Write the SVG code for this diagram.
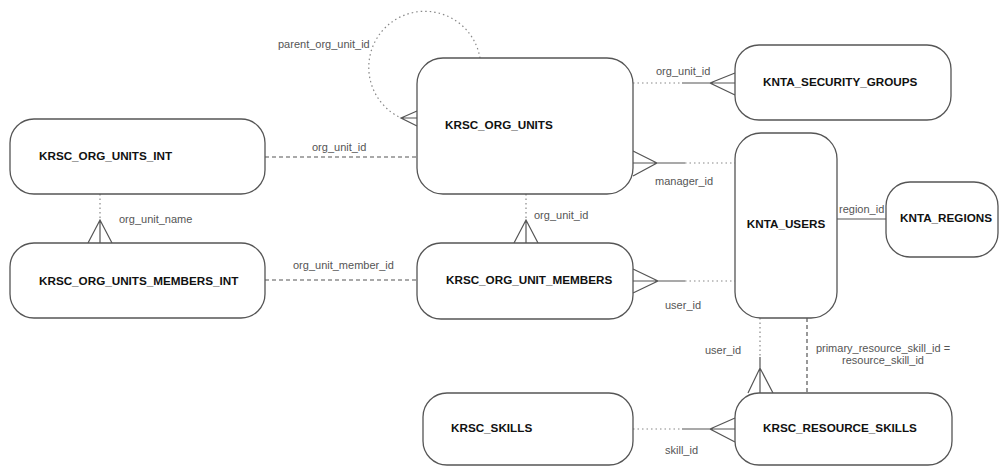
<svg xmlns="http://www.w3.org/2000/svg" width="999" height="466" viewBox="0 0 999 466">
<style>
.box{fill:#fff;stroke:#555;stroke-width:1.3}
.t{font-family:"Liberation Sans",Arial,sans-serif;font-size:11.7px;font-weight:bold;fill:#111}
.l{font-family:"Liberation Sans",Arial,sans-serif;font-size:11px;fill:#555}
.sol{fill:none;stroke:#555;stroke-width:1.2}
.dot{fill:none;stroke:#888;stroke-width:1.2;stroke-dasharray:1.5,3}
.dash{fill:none;stroke:#555;stroke-width:1.2;stroke-dasharray:4,3}
</style>
<rect width="999" height="466" fill="#fff"/>
<g id="connectors">
  <!-- self loop -->
  <path class="dot" d="M480 58 A56 56 0 1 0 401 118"/>
  <path class="sol" d="M417 111 L401 118 L417 126 M401 118 L417 118"/>
  <!-- ORG_UNITS_INT - ORG_UNITS -->
  <line class="dash" x1="265" y1="157" x2="417" y2="157"/>
  <!-- ORG_UNITS - SECURITY_GROUPS -->
  <line class="dot" x1="633" y1="83" x2="682" y2="83"/>
  <path class="sol" d="M682 83 L735 83 M735 73 L710 83 L735 95"/>
  <!-- USERS - ORG_UNITS manager -->
  <line class="dot" x1="685" y1="163" x2="735" y2="163"/>
  <path class="sol" d="M633 163 L685 163 M633 151 L657 163 L633 176"/>
  <!-- USERS - REGIONS -->
  <line class="sol" x1="837" y1="219" x2="886" y2="219"/>
  <!-- ORG_UNITS_INT - MEMBERS_INT -->
  <line class="dot" x1="100" y1="194" x2="100" y2="220"/>
  <path class="sol" d="M100 220 L100 243 M88 243 L100 220 L112 243"/>
  <!-- MEMBERS_INT - ORG_UNIT_MEMBERS -->
  <line class="dash" x1="265" y1="280" x2="417" y2="280"/>
  <!-- ORG_UNITS - ORG_UNIT_MEMBERS -->
  <line class="dot" x1="526" y1="194" x2="526" y2="220"/>
  <path class="sol" d="M526 220 L526 243 M514 243 L526 220 L538 243"/>
  <!-- ORG_UNIT_MEMBERS - USERS -->
  <line class="dot" x1="685" y1="281" x2="735" y2="281"/>
  <path class="sol" d="M633 281 L685 281 M633 269 L658 281 L633 293"/>
  <!-- USERS - RESOURCE_SKILLS user_id -->
  <line class="dot" x1="760" y1="318" x2="760" y2="357"/>
  <path class="sol" d="M760 357 L760 393 M748 393 L760 368 L773 393"/>
  <!-- USERS - RESOURCE_SKILLS primary -->
  <line class="dash" x1="807" y1="318" x2="807" y2="393"/>
  <!-- SKILLS - RESOURCE_SKILLS -->
  <line class="dot" x1="633" y1="429" x2="682" y2="429"/>
  <path class="sol" d="M682 429 L735 429 M735 418 L710 429 L735 442"/>
  <!-- labels -->
  <text class="l" x="278" y="48">parent_org_unit_id</text>
  <text class="l" x="312" y="151">org_unit_id</text>
  <text class="l" x="656" y="75">org_unit_id</text>
  <text class="l" x="655" y="185">manager_id</text>
  <text class="l" x="839" y="213">region_id</text>
  <text class="l" x="119" y="223">org_unit_name</text>
  <text class="l" x="293" y="269">org_unit_member_id</text>
  <text class="l" x="534" y="219">org_unit_id</text>
  <text class="l" x="665" y="309">user_id</text>
  <text class="l" x="705" y="354">user_id</text>
  <text class="l" x="883" y="352" text-anchor="middle">primary_resource_skill_id =</text>
  <text class="l" x="883" y="364" text-anchor="middle">resource_skill_id</text>
  <text class="l" x="665" y="454">skill_id</text>
</g>
<g id="KRSC_ORG_UNITS">
  <rect class="box" x="417" y="58" width="216" height="136" rx="26" ry="26"/>
  <text class="t" x="445" y="129">KRSC_ORG_UNITS</text>
</g>
<g id="KNTA_SECURITY_GROUPS">
  <rect class="box" x="735" y="45" width="216" height="75" rx="24" ry="24"/>
  <text class="t" x="763" y="86">KNTA_SECURITY_GROUPS</text>
</g>
<g id="KNTA_USERS">
  <rect class="box" x="735" y="133" width="102" height="185" rx="26" ry="26"/>
  <text class="t" x="786" y="228" text-anchor="middle">KNTA_USERS</text>
</g>
<g id="KNTA_REGIONS">
  <rect class="box" x="886" y="182" width="112" height="75" rx="24" ry="24"/>
  <text class="t" x="946" y="222" text-anchor="middle">KNTA_REGIONS</text>
</g>
<g id="KRSC_ORG_UNITS_INT">
  <rect class="box" x="10" y="119" width="255" height="75" rx="24" ry="24"/>
  <text class="t" x="39" y="160">KRSC_ORG_UNITS_INT</text>
</g>
<g id="KRSC_ORG_UNITS_MEMBERS_INT">
  <rect class="box" x="10" y="243" width="255" height="75" rx="24" ry="24"/>
  <text class="t" x="39" y="285">KRSC_ORG_UNITS_MEMBERS_INT</text>
</g>
<g id="KRSC_ORG_UNIT_MEMBERS">
  <rect class="box" x="417" y="243" width="216" height="76" rx="24" ry="24"/>
  <text class="t" x="446" y="284">KRSC_ORG_UNIT_MEMBERS</text>
</g>
<g id="KRSC_SKILLS">
  <rect class="box" x="423" y="393" width="210" height="72" rx="24" ry="24"/>
  <text class="t" x="451" y="432">KRSC_SKILLS</text>
</g>
<g id="KRSC_RESOURCE_SKILLS">
  <rect class="box" x="735" y="393" width="217" height="72" rx="24" ry="24"/>
  <text class="t" x="763" y="432">KRSC_RESOURCE_SKILLS</text>
</g>
</svg>
